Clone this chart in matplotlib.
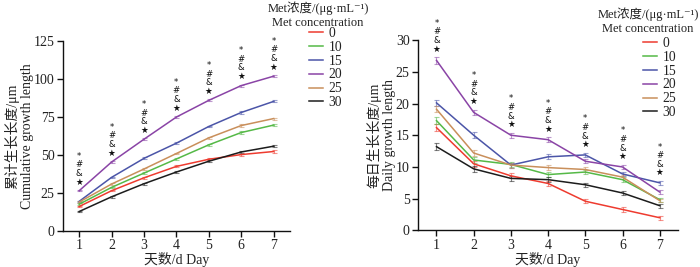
import matplotlib
matplotlib.use("Agg")
import matplotlib.pyplot as plt
import numpy as np

plt.rcParams['font.family'] = ['Liberation Serif', 'DejaVu Serif', 'Noto Sans CJK SC']

days = [1, 2, 3, 4, 5, 6, 7]
concs = ['0', '10', '15', '20', '25', '30']
colors = ['#ee3b2f', '#55b947', '#4b55a8', '#8a44a6', '#c98f5b', '#1c1c1c']

# cumulative growth length (um)
cum = {
    '0':  [16.1, 26.5, 35.0, 42.5, 47.2, 50.3, 52.3],
    '10': [17.6, 28.7, 38.1, 47.4, 56.7, 64.8, 69.7],
    '15': [19.5, 35.3, 47.8, 57.8, 68.8, 78.0, 85.3],
    '20': [26.5, 45.4, 60.4, 75.0, 86.0, 95.7, 101.9],
    '25': [19.0, 30.9, 40.8, 51.0, 61.3, 69.4, 74.0],
    '30': [12.8, 22.5, 31.1, 38.8, 45.9, 52.0, 55.8],
}
cum_err = [0.5, 0.5, 0.6, 0.6, 0.6, 0.7, 0.7]

# daily growth length (um)
daily = {
    '0':  [16.2, 10.5, 8.6, 7.4, 4.6, 3.3, 2.0],
    '10': [17.3, 11.1, 10.4, 8.8, 9.2, 8.0, 4.85],
    '15': [20.1, 15.0, 10.3, 11.6, 11.9, 8.9, 7.5],
    '20': [26.8, 18.6, 15.0, 14.3, 10.9, 10.0, 6.05],
    '25': [19.1, 12.2, 10.3, 9.9, 9.6, 8.4, 4.7],
    '30': [13.2, 9.7, 8.2, 8.0, 7.2, 5.9, 3.9],
}
daily_err = [0.5, 0.45, 0.4, 0.4, 0.35, 0.35, 0.3]

title_lines = ['Met浓度/(μg·mL⁻¹)', 'Met concentration']
sig_marks = '*\n#\n&\n★'
txt_color = '#222222'


def draw_panel(ax, data, err, ylim, yticks, ylabel):
    for c, col in zip(concs, colors):
        ax.errorbar(days, data[c], yerr=err, color=col, lw=1.1,
                    ecolor=matplotlib.colors.to_rgba(col, 0.55), elinewidth=0.8,
                    capsize=1.8, capthick=0.8, label=c)
    # significance marks above the highest point of each day
    tops = np.max([np.array(data[c]) + np.array(err) for c in concs], axis=0)
    for d, t in zip(days, tops):
        ax.annotate(sig_marks, xy=(d, t), xytext=(0, 2.5), textcoords='offset points',
                    ha='center', va='bottom', fontsize=6.2, linespacing=0.95,
                    color='#111111', family=['DejaVu Sans'])
    ax.set_xlim(0.5, 7.5)
    ax.set_ylim(*ylim)
    ax.set_yticks(yticks)
    ax.set_xticks(days)
    for s in ['top', 'right']:
        ax.spines[s].set_visible(False)
    for s in ['left', 'bottom']:
        ax.spines[s].set_linewidth(1.0)
        ax.spines[s].set_color('#111111')
    ax.tick_params(direction='out', length=4, width=1.0, labelsize=10,
                   colors='#111111', labelcolor=txt_color, pad=2)
    ax.set_xlabel('天数/d Day', fontsize=10, color=txt_color, labelpad=0)
    ax.set_ylabel(ylabel, fontsize=10, color=txt_color, labelpad=0,
                  linespacing=1.15)


fig = plt.figure(figsize=(7.0, 2.67), dpi=100)
ax1 = fig.add_axes([0.09, 0.135, 0.324, 0.711])
ax2 = fig.add_axes([0.597, 0.137, 0.372, 0.713])

draw_panel(ax1, cum, cum_err, (0, 125), [0, 25, 50, 75, 100, 125],
           '累计生长长度/μm\nCumulative growth length')
draw_panel(ax2, daily, daily_err, (0, 30), [0, 5, 10, 15, 20, 25, 30],
           '每日生长长度/μm\nDaily growth length')

W, H = 700.0, 267.0
# (title center x, first title line y, legend left x, legend top y) in pixels
legend_spots = [(ax1, 318, 8, 309, 27), (ax2, 648, 14, 643, 37)]
for ax, tx, ty, lx, ly in legend_spots:
    for i, line in enumerate(title_lines):
        fig.text(tx / W, 1 - (ty + 14.5 * i) / H, line, ha='center', va='center',
                 fontsize=9.0, color=txt_color)
    h, l = ax.get_legend_handles_labels()
    h = [hh[0] for hh in h]
    leg = fig.legend(h, l, frameon=False, fontsize=9.8, loc='upper left',
                     bbox_to_anchor=(lx / W, 1 - ly / H),
                     handlelength=1.0, handletextpad=0.45, labelspacing=0.06,
                     borderaxespad=0, borderpad=0)
    for t in leg.get_texts():
        t.set_color(txt_color)

fig.savefig('out.png', dpi=100)
